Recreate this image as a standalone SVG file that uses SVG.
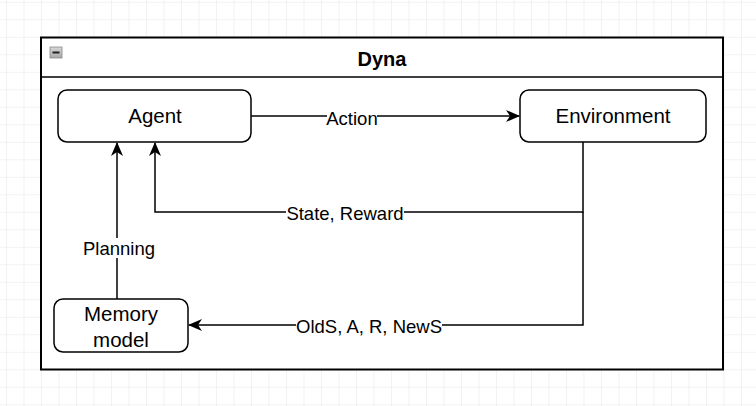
<svg xmlns="http://www.w3.org/2000/svg" width="756" height="406" viewBox="0 0 756 406">
<defs>
<pattern id="grid" x="6" y="1.8" width="17.5" height="17.5" patternUnits="userSpaceOnUse">
<path d="M0 0H17.5M0 0V17.5" fill="none" stroke="#e6e6e6" stroke-width="1"/>
</pattern>
<marker id="arrB" viewBox="0 0 14 12" refX="13" refY="6" markerWidth="14" markerHeight="12" markerUnits="userSpaceOnUse" orient="auto">
<path d="M0 0L14 6L0 12L4 6Z" fill="#000"/>
</marker>
<linearGradient id="btn" x1="0" y1="0" x2="0" y2="1">
<stop offset="0" stop-color="#d8d8d8"/>
<stop offset="1" stop-color="#a8a8a8"/>
</linearGradient>
</defs>
<style>
.node{fill:#fff;stroke:#000;stroke-width:1.5}
.edge{fill:none;stroke:#000;stroke-width:1.5}
.lbl{font-family:"Liberation Sans",Arial,sans-serif;font-size:20.5px;text-anchor:middle;fill:#000}
.elbl{font-family:"Liberation Sans",Arial,sans-serif;font-size:18.5px;text-anchor:middle;fill:#000}
.bg{fill:#fff}
</style>
<rect width="756" height="406" fill="#fff"/>
<rect width="756" height="406" fill="url(#grid)"/>
<g id="dyna">
<rect x="41" y="37.5" width="682" height="332" fill="#fff" stroke="#000" stroke-width="2"/>
<line x1="41" y1="77" x2="723" y2="77" stroke="#000" stroke-width="1.5"/>
<rect x="50" y="47" width="12" height="11" fill="url(#btn)" stroke="#888" stroke-width="0.8"/>
<rect x="52.5" y="51.5" width="7" height="2" fill="#222"/>
<text x="382" y="66" font-family="'Liberation Sans',Arial,sans-serif" font-size="20" font-weight="bold" text-anchor="middle">Dyna</text>
</g>
<g id="connectors">
<path class="edge" d="M251 116H519" marker-end="url(#arrB)"/>
<path class="edge" d="M583 142V212H155V143" marker-end="url(#arrB)"/>
<path class="edge" d="M583 212V325H189" marker-end="url(#arrB)"/>
<path class="edge" d="M117 299V143" marker-end="url(#arrB)"/>
<rect class="bg" x="327" y="108" width="50" height="18"/>
<text class="elbl" x="352" y="125">Action</text>
<rect class="bg" x="286" y="204" width="118" height="18"/>
<text class="elbl" x="345" y="220">State, Reward</text>
<rect class="bg" x="82" y="238" width="72" height="20"/>
<text class="elbl" x="119" y="255">Planning</text>
<rect class="bg" x="296" y="316" width="146" height="18"/>
<text class="elbl" x="369" y="333">OldS, A, R, NewS</text>
</g>
<g id="agent">
<rect class="node" x="58" y="90" width="193" height="52" rx="9"/>
<text class="lbl" x="155" y="123">Agent</text>
</g>
<g id="environment">
<rect class="node" x="520" y="90" width="186" height="52" rx="9"/>
<text class="lbl" x="613" y="123">Environment</text>
</g>
<g id="memory">
<rect class="node" x="54" y="299" width="134" height="53" rx="9"/>
<text class="lbl" x="121" y="321">Memory</text>
<text class="lbl" x="121" y="347">model</text>
</g>
</svg>
